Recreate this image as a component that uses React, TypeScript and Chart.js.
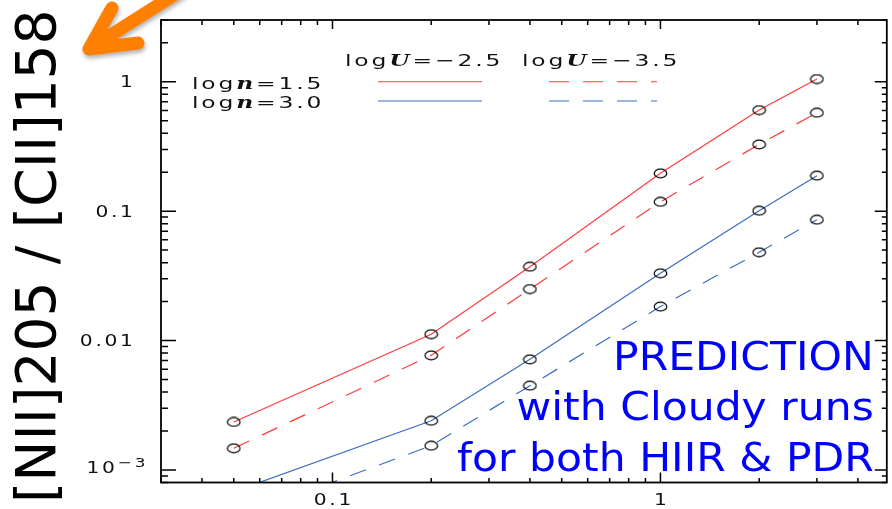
import React, { useEffect, useRef } from 'react';
import { Chart, registerables } from 'chart.js';

Chart.register(...registerables);

// ---------- data ----------
const xValues = [0.05, 0.2, 0.4, 1, 2, 3];
const redSolid = [0.00235, 0.0112, 0.0372, 0.196, 0.604, 1.05]; // logn=1.5, logU=-2.5
const redDashed = [0.00147, 0.00769, 0.025, 0.118, 0.328, 0.576]; // logn=1.5, logU=-3.5
const blueSolid = [0.00068, 0.0024, 0.00716, 0.0331, 0.1008, 0.188]; // logn=3.0, logU=-2.5
const blueDashed = [0.00042, 0.00154, 0.00448, 0.0183, 0.0481, 0.0859]; // logn=3.0, logU=-3.5

const xTickValues = [0.1, 1];
const xTickLabels = ['0.1', '1'];
const yTickValues = [1, 0.1, 0.01, 0.001];
const yTickLabels = ['1', '0.1', '0.01', '10^−3'];

const legendColumns = [['log', 'U', '=−2.5'], ['log', 'U', '=−3.5']];
const legendRows = [['log', 'n', '=1.5'], ['log', 'n', '=3.0']];
const yTitle = '[NII]205 / [CII]158';
const noteLines = ['PREDICTION', 'with Cloudy runs', 'for both HIIR & PDR'];

const RED = '#ff3b3b';
const BLUE = '#3b6dbf';
const INK = '#111111';

function drawText(ctx: any, s: string, x: number, y: number, o: any) {
  const sx = o.sx || 1;
  const ls = o.ls || 0;
  ctx.save();
  ctx.font = o.font;
  ctx.letterSpacing = '0px';
  const n = Array.from(s).length;
  const base = ctx.measureText(s).width;
  const w = (base + ls * (n - 1)) * sx;
  const x0 = o.align === 'right' ? x - w : o.align === 'center' ? x - w / 2 : x;
  ctx.translate(x0, y);
  ctx.scale(sx, 1);
  ctx.letterSpacing = ls + 'px';
  ctx.textAlign = 'left';
  ctx.textBaseline = 'alphabetic';
  ctx.fillStyle = o.color || INK;
  ctx.fillText(s, 0, 0);
  ctx.restore();
  return w;
}

function drawRuns(ctx: any, runs: string[], x: number, y: number) {
  const sx = 1.42;
  const ls = 2;
  const reg = '16.5px "DejaVu Sans"';
  const ital = 'italic bold 16.5px "DejaVu Serif"';
  let cx = x;
  runs.forEach((r, i) => {
    const w = drawText(ctx, r, cx, y, { font: i === 1 ? ital : reg, sx, ls, color: INK });
    cx += w + ls * sx;
  });
}

const overlay = {
  id: 'overlay',
  afterDraw(chart: any) {
    const ctx = chart.ctx;
    const { left, right, top, bottom } = chart.chartArea;
    const xs = chart.scales.x;
    const ys = chart.scales.y;

    ctx.save();
    ctx.setLineDash([]);
    // frame
    ctx.strokeStyle = '#000';
    ctx.lineWidth = 1.8;
    ctx.strokeRect(left, top, right - left, bottom - top);

    // ticks
    ctx.lineWidth = 1.5;
    ctx.strokeStyle = '#000';
    ctx.beginPath();
    for (let e = -3; e <= 1; e++) {
      for (let m = 1; m <= 9; m++) {
        const v = m * Math.pow(10, e);
        if (v >= xs.min * 0.999 && v <= xs.max * 1.001) {
          const p = xs.getPixelForValue(v);
          const major = m === 1;
          ctx.moveTo(p, bottom);
          ctx.lineTo(p, bottom - (major ? 10 : 4.5));
          ctx.moveTo(p, top);
          ctx.lineTo(p, top + (major ? 9 : 5));
        }
      }
    }
    for (let e = -4; e <= 1; e++) {
      for (let m = 1; m <= 9; m++) {
        const v = m * Math.pow(10, e);
        if (v >= ys.min * 0.999 && v <= ys.max * 1.001) {
          const p = ys.getPixelForValue(v);
          const major = m === 1;
          ctx.moveTo(left, p);
          ctx.lineTo(left + (major ? 15 : 7), p);
          ctx.moveTo(right, p);
          ctx.lineTo(right - (major ? 12 : 5), p);
        }
      }
    }
    ctx.stroke();

    // tick labels
    const tf = '15px "DejaVu Sans"';
    xTickValues.forEach((v, i) => {
      const p = xs.getPixelForValue(v);
      drawText(ctx, xTickLabels[i], p, bottom + 22.5, { font: tf, align: 'center', sx: 1.35, ls: 2 });
    });
    yTickValues.forEach((v, i) => {
      const p = ys.getPixelForValue(v);
      const lab = yTickLabels[i];
      const rx = left - 28;
      if (lab.includes('^')) {
        const [b, s] = lab.split('^');
        const bx = rx - 18;
        drawText(ctx, b, bx, p + 3.5, { font: tf, align: 'right', sx: 1.35, ls: 2 });
        drawText(ctx, s, bx + 3, p - 2.5, { font: '13px "DejaVu Sans"', align: 'left', sx: 1.3, ls: 2 });
      } else {
        drawText(ctx, lab, rx, p + 5.5, { font: tf, align: 'right', sx: 1.35, ls: 2 });
      }
    });

    // legend
    const colX = [left + 184, left + 361];
    const rowY = [88.5, 107.5];
    const lineY = [ys.getPixelForValue(1), 101];
    legendColumns.forEach((c, i) => drawRuns(ctx, c, colX[i], 66));
    legendRows.forEach((r, i) => drawRuns(ctx, r, left + 31, rowY[i]));
    const colors = [RED, BLUE];
    ctx.lineWidth = 1.2;
    colors.forEach((c, i) => {
      ctx.strokeStyle = c;
      ctx.setLineDash([]);
      ctx.beginPath();
      ctx.moveTo(left + 217, lineY[i]);
      ctx.lineTo(left + 321, lineY[i]);
      ctx.stroke();
      ctx.setLineDash([20, 14]);
      ctx.beginPath();
      ctx.moveTo(left + 388, lineY[i]);
      ctx.lineTo(left + 496, lineY[i]);
      ctx.stroke();
    });
    ctx.setLineDash([]);

    // y title
    ctx.save();
    ctx.translate(55, (top + bottom) / 2 + 5);
    ctx.rotate(-Math.PI / 2);
    ctx.font = '55px "DejaVu Sans"';
    ctx.fillStyle = '#000';
    ctx.textAlign = 'center';
    ctx.textBaseline = 'alphabetic';
    ctx.fillText(yTitle, 0, 0);
    ctx.restore();

    // note
    const noteY = [370, 420, 471];
    noteLines.forEach((s, i) => {
      drawText(ctx, s, right - 13, noteY[i], { font: '39px "DejaVu Sans"', align: 'right', sx: 1.09, ls: 0, color: '#0000ff' });
    });

    // orange arrow
    ctx.save();
    ctx.strokeStyle = '#ff8000';
    ctx.lineWidth = 13;
    ctx.lineCap = 'round';
    ctx.lineJoin = 'round';
    ctx.shadowColor = 'rgba(0,0,0,0.3)';
    ctx.shadowBlur = 4;
    ctx.shadowOffsetX = 1;
    ctx.shadowOffsetY = 3;
    ctx.beginPath();
    ctx.moveTo(112, 8);
    ctx.lineTo(89, 49);
    ctx.lineTo(138, 43);
    ctx.moveTo(89, 49);
    ctx.lineTo(185, -12);
    ctx.stroke();
    ctx.restore();

    ctx.restore();
  },
};

function makeEllipse() {
  const c = document.createElement('canvas');
  c.width = 15;
  c.height = 11;
  const g = c.getContext('2d')!;
  g.strokeStyle = '#000';
  g.lineWidth = 1.2;
  g.beginPath();
  g.ellipse(7.5, 5.5, 6.3, 4.4, 0, 0, Math.PI * 2);
  g.stroke();
  return c;
}

export default function App() {
  const ref = useRef<HTMLCanvasElement | null>(null);
  useEffect(() => {
    if (!ref.current) return;
    const pt = makeEllipse();
    const mk = (label: string, ys: number[], color: string, dashed: boolean) => ({
      label,
      data: xValues.map((x, i) => ({ x, y: ys[i] })),
      showLine: true,
      borderColor: color,
      borderWidth: 1.2,
      borderDash: dashed ? [17, 14] : [],
      pointStyle: pt,
      pointRadius: 3,
      backgroundColor: 'transparent',
      tension: 0,
    });
    const chart = new Chart(ref.current, {
      type: 'scatter',
      data: {
        datasets: [
          mk('logn=1.5 logU=−2.5', redSolid, RED, false),
          mk('logn=1.5 logU=−3.5', redDashed, RED, true),
          mk('logn=3.0 logU=−2.5', blueSolid, BLUE, false),
          mk('logn=3.0 logU=−3.5', blueDashed, BLUE, true),
        ] as any,
      },
      options: {
        animation: false,
        responsive: false,
        maintainAspectRatio: false,
        devicePixelRatio: 1,
        layout: { padding: { left: 161, top: 20, right: 2, bottom: 26.5 } },
        plugins: { legend: { display: false }, tooltip: { enabled: false } },
        scales: {
          x: { type: 'logarithmic', min: 0.03, max: 4.9, display: false },
          y: { type: 'logarithmic', min: 0.0008, max: 3, display: false },
        },
      } as any,
      plugins: [overlay],
    });
    return () => chart.destroy();
  }, []);
  return (
    <div style={{ position: 'fixed', left: 0, top: 0, width: 892, height: 509, background: '#fff' }}>
      <canvas ref={ref} width={892} height={509} style={{ display: 'block' }} />
    </div>
  );
}
